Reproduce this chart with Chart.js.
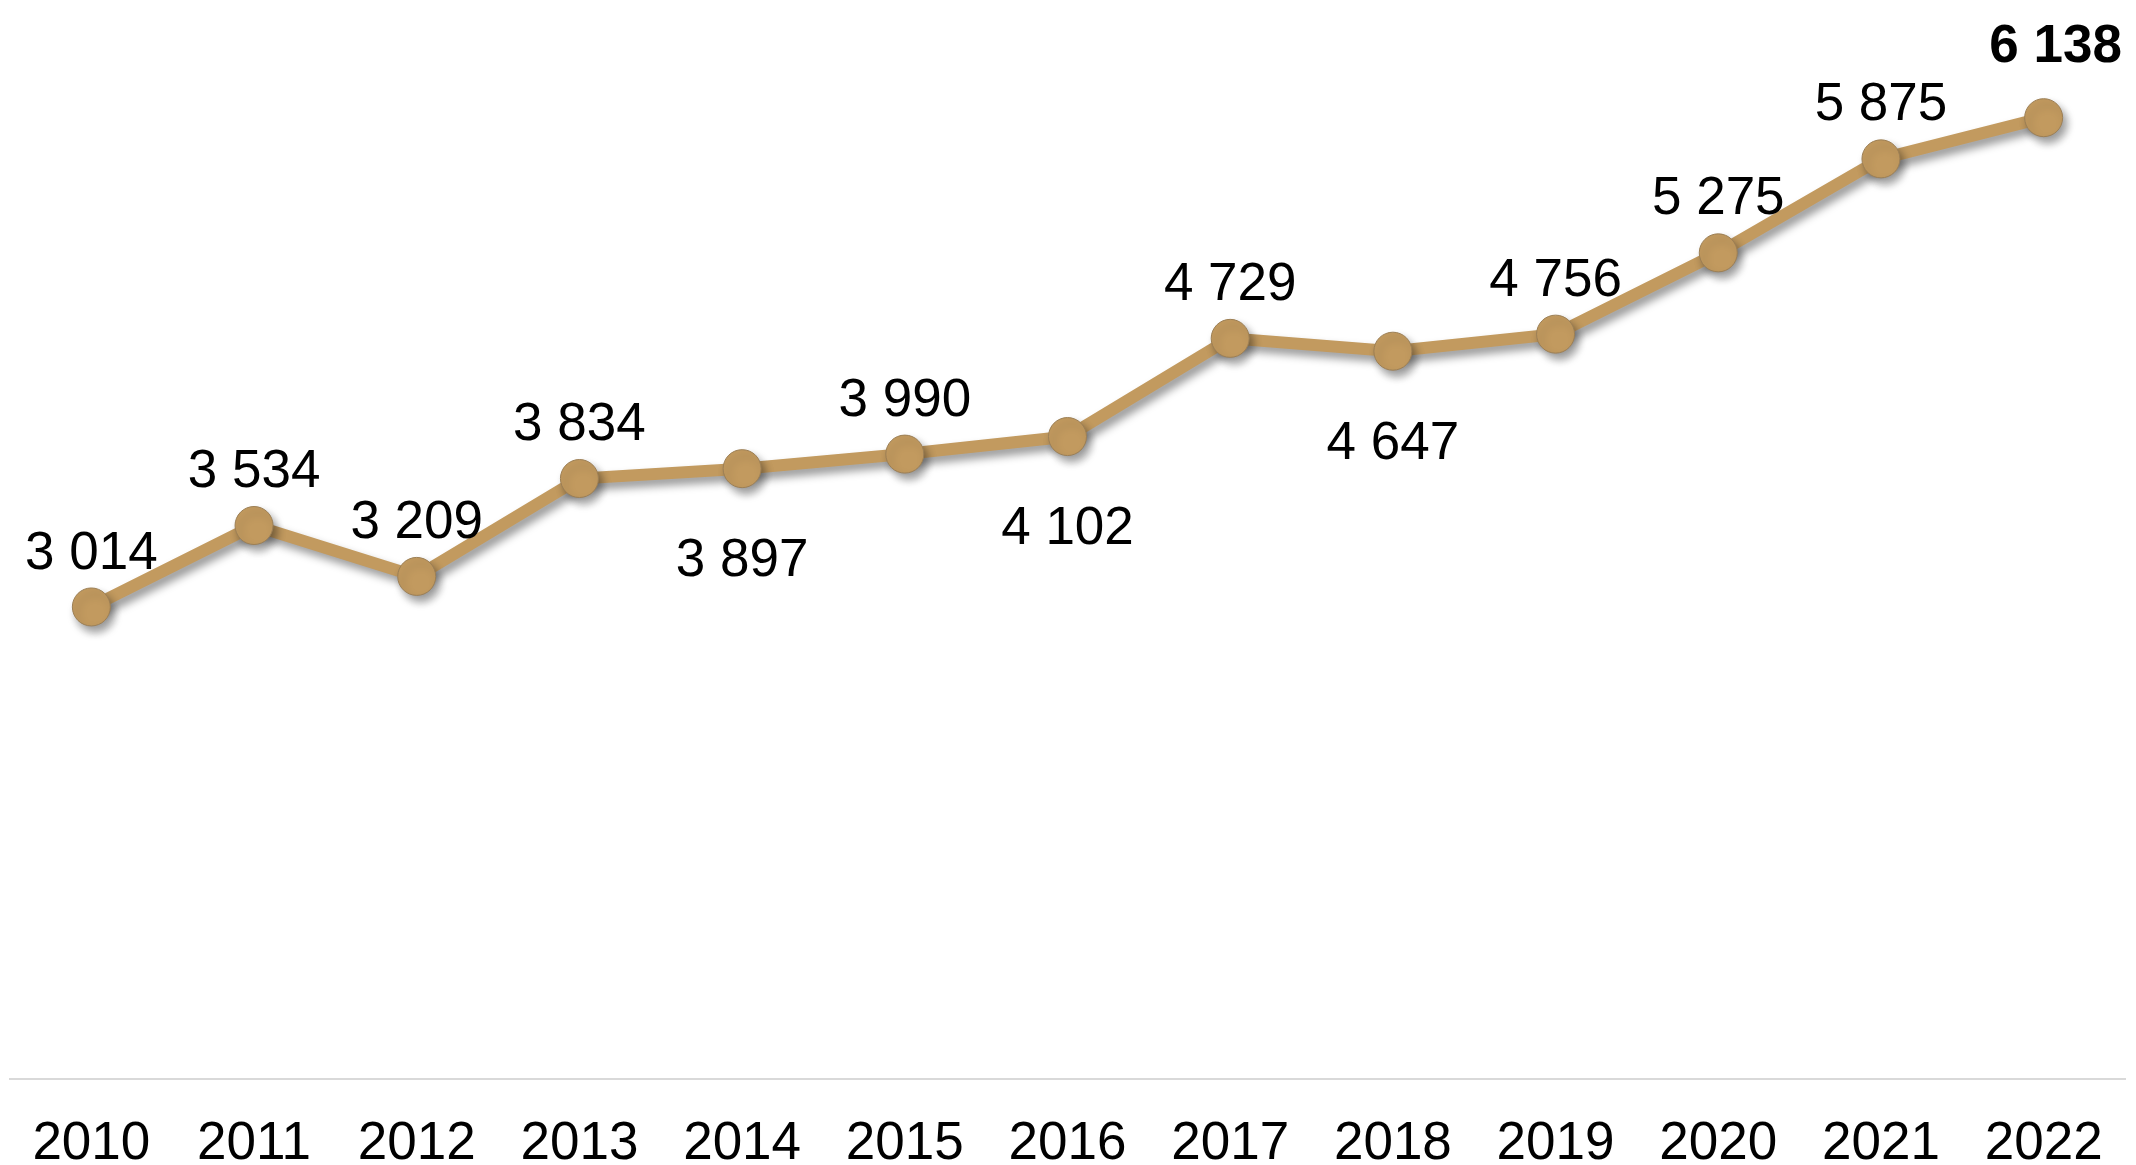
<!DOCTYPE html>
<html>
<head>
<meta charset="utf-8">
<script src="https://cdn.jsdelivr.net/npm/chart.js@4.4.1/dist/chart.umd.min.js"></script>
<style>
  html, body { margin: 0; padding: 0; background: #fff; }
  #wrap { width: 2136px; height: 1165px; position: relative; }
</style>
</head>
<body>
<div id="wrap"><canvas id="chart"></canvas></div>
<script>
const years = ['2010', '2011', '2012', '2013', '2014', '2015', '2016', '2017', '2018', '2019', '2020', '2021', '2022'];
const values = [3014, 3534, 3209, 3834, 3897, 3990, 4102, 4729, 4647, 4756, 5275, 5875, 6138];
// where each value label sits relative to its point
const labelSide = ['above', 'above', 'above', 'above', 'below', 'above', 'below', 'above', 'below', 'above', 'above', 'above', 'above'];

const gold = '#c29a5f';
const font = '"Liberation Sans", Arial, sans-serif';

const fmt = v => String(v).replace(/\B(?=(\d{3})+(?!\d))/g, ' ');

const shadowPlugin = {
  id: 'shadow',
  beforeDatasetDraw(chart) {
    const ctx = chart.ctx;
    ctx.save();
    ctx.shadowColor = 'rgba(0,0,0,0.4)';
    ctx.shadowBlur = 9;
    ctx.shadowOffsetX = 4;
    ctx.shadowOffsetY = 6;
  },
  afterDatasetDraw(chart) {
    chart.ctx.restore();
  }
};

const valueLabels = {
  id: 'valueLabels',
  afterDatasetsDraw(chart) {
    const ctx = chart.ctx;
    const meta = chart.getDatasetMeta(0);
    ctx.save();
    ctx.fillStyle = '#000';
    ctx.textAlign = 'center';
    ctx.textBaseline = 'middle';
    meta.data.forEach((pt, i) => {
      const last = i === values.length - 1;
      ctx.font = (last ? 'bold ' : '') + '53px ' + font;
      const dy = labelSide[i] === 'below' ? 93 : (last ? -70 : -53);
      const dx = last ? 12 : 0;
      ctx.fillText(fmt(values[i]), pt.x + dx, pt.y + dy);
    });
    ctx.restore();
  }
};

new Chart(document.getElementById('chart'), {
  type: 'line',
  data: {
    labels: years,
    datasets: [{
      data: values,
      borderColor: gold,
      borderWidth: 12,
      backgroundColor: gold,
      pointBackgroundColor: gold,
      pointBorderColor: '#9c7f55',
      pointBorderWidth: 1,
      pointRadius: 19,
      pointHoverRadius: 19,
      tension: 0,
      clip: false
    }]
  },
  options: {
    responsive: true,
    maintainAspectRatio: false,
    animation: false,
    events: [],
    layout: {
      autoPadding: false,
      padding: { top: 14, left: 10, right: 11, bottom: 0 }
    },
    scales: {
      x: {
        offset: true,
        grid: { display: false, drawTicks: false },
        border: { display: true, color: '#d9d9d9', width: 2 },
        ticks: {
          color: '#000',
          padding: 39,
          font: { family: font, size: 53, lineHeight: 1.0 },
          maxRotation: 0,
          autoSkip: false
        },
        // fixed axis band, no extra side padding from the tick labels
        afterFit(scale) {
          scale.height = 86;
          scale.paddingLeft = 0;
          scale.paddingRight = 0;
        }
      },
      y: {
        display: false,
        min: 0,
        max: 6800
      }
    },
    plugins: {
      legend: { display: false },
      tooltip: { enabled: false }
    }
  },
  plugins: [shadowPlugin, valueLabels]
});
</script>
</body>
</html>
